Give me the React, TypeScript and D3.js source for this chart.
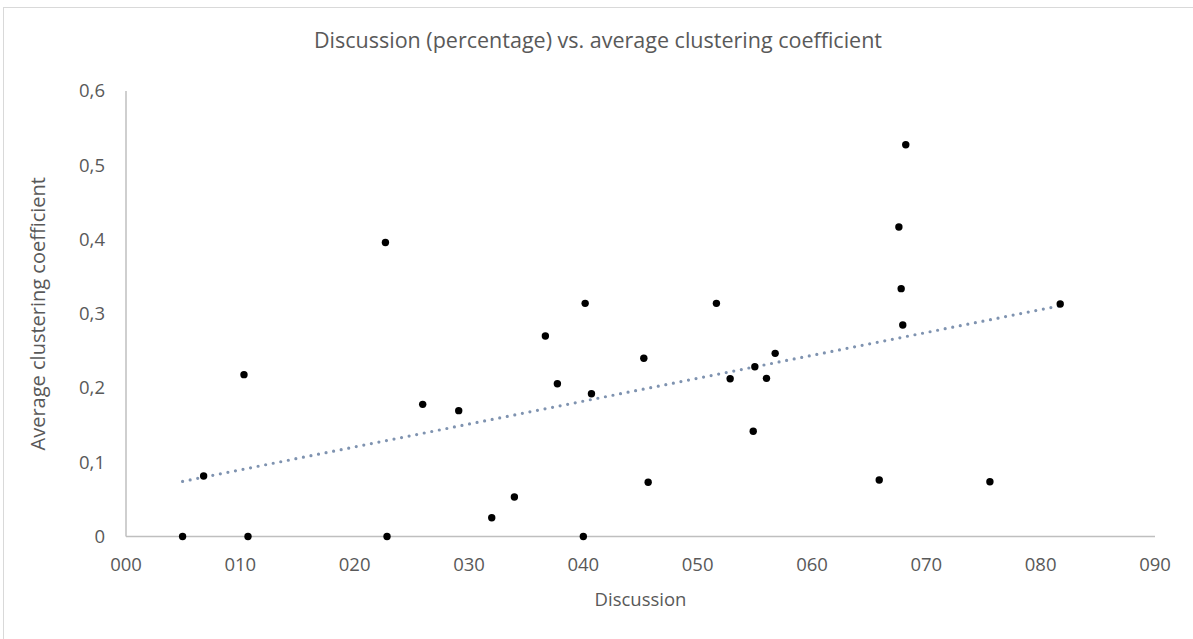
import React from "react";
import * as d3 from "d3";

// Discussion share (percent) for each network
const discussion: number[] = [
  4.95, 6.79, 10.67, 10.32, 22.83, 25.95, 29.1, 22.69, 36.68, 37.73,
  40.71, 45.29, 31.99, 33.97, 40.0, 45.67, 52.84, 55.0, 56.02, 56.78,
  54.86, 40.16, 51.64, 68.2, 67.6, 67.8, 67.94, 81.71, 65.88, 75.56,
];

// Average clustering coefficient for each network
const clustering: number[] = [
  0, 0.0815, 0, 0.218, 0, 0.178, 0.1695, 0.396, 0.27, 0.2058,
  0.1923, 0.24, 0.0253, 0.0532, 0, 0.073, 0.2125, 0.2287, 0.213, 0.2467,
  0.1417, 0.314, 0.314, 0.5277, 0.4168, 0.3338, 0.2848, 0.3131, 0.0761, 0.0738,
];

const xTicks: number[] = [0, 10, 20, 30, 40, 50, 60, 70, 80, 90];
const yTicks: number[] = [0, 0.1, 0.2, 0.3, 0.4, 0.5, 0.6];

const chartTitle = "Discussion (percentage) vs. average clustering coefficient";
const xTitle = "Discussion";
const yTitle = "Average clustering coefficient";

const W = 1193;
const H = 639;
const margin = { left: 126, right: 38, top: 91, bottom: 102.5 };
const FONT = "'Open Sans', 'Noto Sans', sans-serif";

export default function App() {
  const x = d3
    .scaleLinear()
    .domain([0, 90])
    .range([margin.left, W - margin.right]);
  const y = d3
    .scaleLinear()
    .domain([0, 0.6])
    .range([H - margin.bottom, margin.top]);

  // Least-squares linear trendline over the data range
  const mx = d3.mean(discussion) as number;
  const my = d3.mean(clustering) as number;
  let sxy = 0;
  let sxx = 0;
  discussion.forEach((d, i) => {
    sxy += (d - mx) * (clustering[i] - my);
    sxx += (d - mx) * (d - mx);
  });
  const slope = sxy / sxx;
  const intercept = my - slope * mx;
  const [xmin, xmax] = d3.extent(discussion) as [number, number];
  const trend = d3
    .line<number>()
    .x((d) => x(d))
    .y((d) => y(intercept + slope * d))([xmin, xmax]);

  const fmtX = (v: number) => String(v).padStart(3, "0");
  const fmtY = (v: number) => (v === 0 ? "0" : d3.format(".1f")(v).replace(".", ","));

  const x0 = x(0);
  const y0 = y(0);

  return (
    <svg
      width={W}
      height={H}
      style={{ position: "absolute", left: 0, top: 0, background: "#fff" }}
      fontFamily={FONT}
    >
      <rect x={3.5} y={7.5} width={W + 10} height={H + 10} fill="#fff" stroke="#d9d9d9" strokeWidth={1} />

      <text x={598} y={48} textAnchor="middle" fontSize={21.5} fill="#595959">
        {chartTitle}
      </text>

      {/* axes */}
      <line x1={x0} x2={x0} y1={y(0.6)} y2={y0} stroke="#bfbfbf" strokeWidth={1.5} />
      <line x1={x0} x2={x(90)} y1={y0} y2={y0} stroke="#bfbfbf" strokeWidth={1.5} />

      {yTicks.map((t) => (
        <text
          key={"y" + t}
          x={105}
          y={y(t)}
          dy="0.35em"
          textAnchor="end"
          fontSize={18.5}
          fill="#595959"
        >
          {fmtY(t)}
        </text>
      ))}
      {xTicks.map((t) => (
        <text
          key={"x" + t}
          x={x(t)}
          y={565}
          dy="0.35em"
          textAnchor="middle"
          fontSize={18.5}
          fill="#595959"
        >
          {fmtX(t)}
        </text>
      ))}

      <text x={(x0 + x(90)) / 2} y={600} dy="0.35em" textAnchor="middle" fontSize={18.5} fill="#595959">
        {xTitle}
      </text>
      <text
        transform={`translate(38,${(y(0) + y(0.6)) / 2}) rotate(-90)`}
        dy="0.35em"
        textAnchor="middle"
        fontSize={20}
        fill="#595959"
      >
        {yTitle}
      </text>

      <path
        d={trend ?? ""}
        fill="none"
        stroke="#7f93b0"
        strokeWidth={3.2}
        strokeLinecap="round"
        strokeDasharray="0 7.7"
      />

      {discussion.map((d, i) => (
        <circle key={i} cx={x(d)} cy={y(clustering[i])} r={3.7} fill="#000" />
      ))}
    </svg>
  );
}
